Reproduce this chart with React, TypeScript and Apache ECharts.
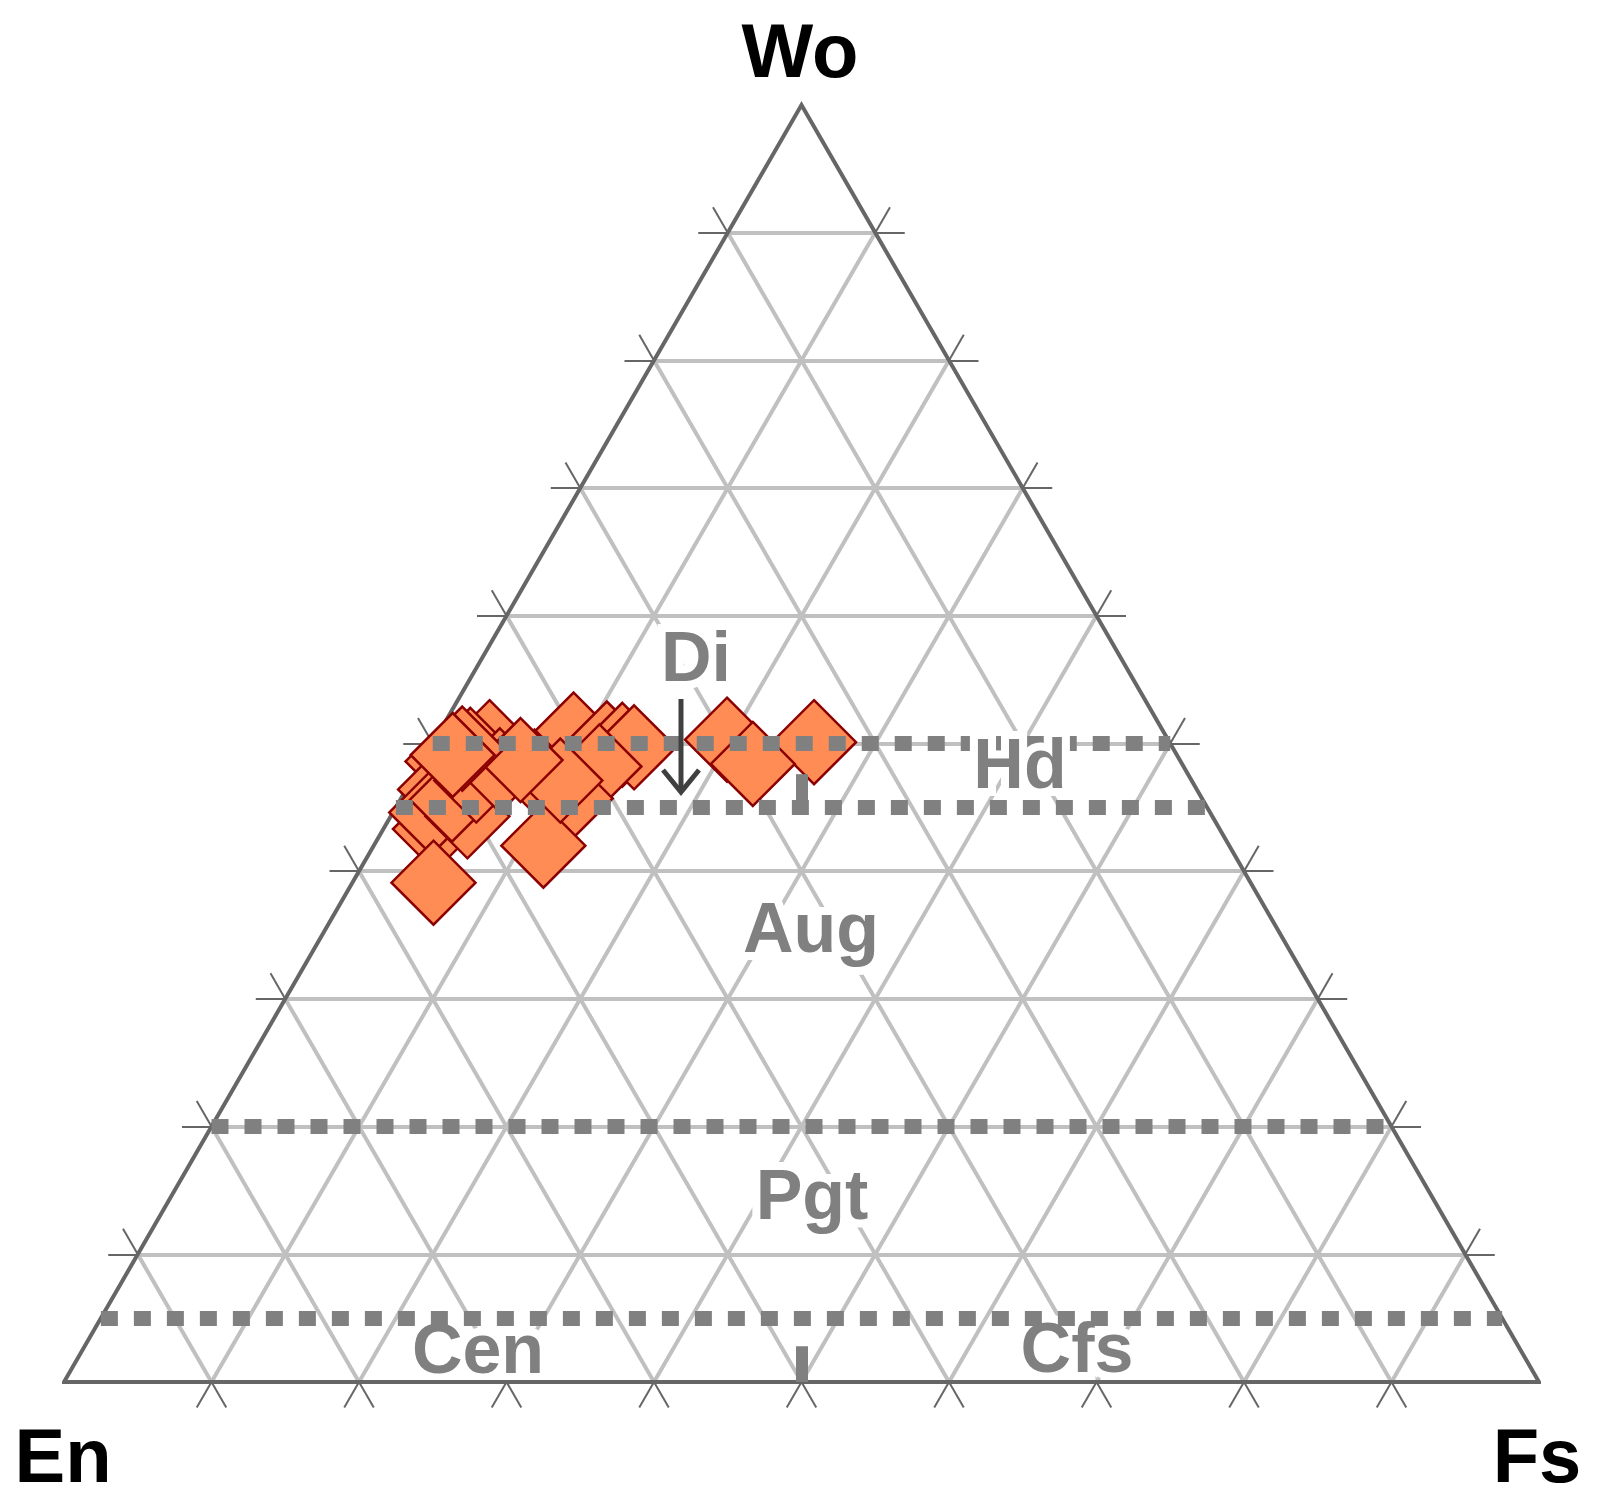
import React, { useEffect, useRef } from "react";
import * as echarts from "echarts";

const H = Math.sqrt(3) / 2;

// Pyroxene compositions (mol %)
const woValues = [50.1, 49.5, 47.9, 48.6, 46.4, 43.3, 44.6, 44.3, 45.6, 39.1, 47.1, 47.9, 50.7, 50.0, 49.9, 49.7, 48.2, 45.7, 47.8, 42.0, 47.1, 48.7, 50.3, 50.1, 48.4, 49.6, 49.1];
const enValues = [46.1, 47.7, 49.3, 49.7, 51.3, 53.2, 52.8, 50.5, 50.9, 55.4, 48.5, 46.5, 40.1, 38.2, 37.2, 36.5, 39.6, 42.8, 44.2, 46.5, 42.8, 44.7, 29.9, 24.1, 29.1, 48.2, 49.1];
const fsValues = [3.8, 2.8, 2.8, 1.7, 2.3, 3.5, 2.6, 5.2, 3.5, 5.5, 4.4, 5.6, 9.2, 11.8, 12.9, 13.8, 12.2, 11.5, 8.0, 11.5, 10.1, 6.6, 19.8, 25.8, 22.5, 2.2, 1.8];

// grid steps (%)
const gridSteps = [10, 20, 30, 40, 50, 60, 70, 80, 90];
// classification boundaries (Wo %)
const boundaryWo = [50, 45, 20, 5];
// En = Fs dividers [WoFrom, WoTo]
const dividerRanges = [[45, 47.6], [0, 2.8]];

const cornerLabels = ["Wo", "En", "Fs"];
const fieldLabels = ["Di", "Hd", "Aug", "Pgt", "Cen", "Cfs"];

function toXY(w: number, e: number, f: number): number[] {
  const s = w + e + f;
  return [(f + w / 2) / s, (w / s) * H];
}

export default function App() {
  const ref = useRef<HTMLDivElement>(null);
  useEffect(() => {
    if (!ref.current) return;
    const chart = echarts.init(ref.current, undefined, { renderer: "svg" });

    const gridLines: any[] = [];
    gridSteps.forEach((k) => {
      gridLines.push({ coords: [toXY(k, 100 - k, 0), toXY(k, 0, 100 - k)] });
      gridLines.push({ coords: [toXY(100 - k, k, 0), toXY(0, k, 100 - k)] });
      gridLines.push({ coords: [toXY(100 - k, 0, k), toXY(0, 100 - k, k)] });
    });

    const L = 0.02;
    const ticks: any[] = [];
    gridSteps.forEach((k) => {
      const w = k / 100;
      const pl = [w / 2, w * H];
      ticks.push({ coords: [pl, [pl[0] - L, pl[1]]] });
      ticks.push({ coords: [pl, [pl[0] - L / 2, pl[1] + L * H]] });
      const pr = [1 - w / 2, w * H];
      ticks.push({ coords: [pr, [pr[0] + L, pr[1]]] });
      ticks.push({ coords: [pr, [pr[0] + L / 2, pr[1] + L * H]] });
      const pb = [w, 0];
      ticks.push({ coords: [pb, [pb[0] - L / 2, -L * H]] });
      ticks.push({ coords: [pb, [pb[0] + L / 2, -L * H]] });
    });

    const dotted = boundaryWo.map((w) => ({
      coords: [toXY(w, 100 - w, 0), toXY(w, 0, 100 - w)],
    }));
    const dividers = dividerRanges.map(([a, b]) => ({
      coords: [toXY(a, (100 - a) / 2, (100 - a) / 2), toXY(b, (100 - b) / 2, (100 - b) / 2)],
    }));

    const edge = [
      [0.5, 0],
      toXY(0, 0, 100),
      toXY(100, 0, 0),
      toXY(0, 100, 0),
      [0.5, 0],
    ];

    const points = woValues.map((w, i) => toXY(w, enValues[i], fsValues[i]));

    const font = '"Liberation Sans", Arial, sans-serif';
    const fieldPos = [
      [696, 657],
      [1020, 764],
      [811, 928],
      [812, 1195],
      [478, 1349],
      [1077, 1348],
    ];
    const fieldZ = [2, 8, 2, 2, 2, 2];
    const cornerPos = [
      [800, 50],
      [63, 1455],
      [1537, 1455],
    ];

    const graphic: any[] = [];
    fieldLabels.forEach((t, i) => {
      graphic.push({
        type: "text",
        x: fieldPos[i][0],
        y: fieldPos[i][1],
        z: fieldZ[i],
        style: {
          text: t,
          fill: "#808080",
          font: `bold 70px ${font}`,
          align: "center",
          verticalAlign: "middle",
          stroke: "#ffffff",
          lineWidth: 16,
        },
      });
    });
    cornerLabels.forEach((t, i) => {
      graphic.push({
        type: "text",
        x: cornerPos[i][0],
        y: cornerPos[i][1],
        z: 20,
        style: {
          text: t,
          fill: "#000000",
          font: `bold 76px ${font}`,
          align: "center",
          verticalAlign: "middle",
        },
      });
    });
    graphic.push({
      type: "line",
      z: 20,
      shape: { x1: 681, y1: 699, x2: 681, y2: 790 },
      style: { stroke: "#404040", lineWidth: 5 },
    });
    graphic.push({
      type: "polyline",
      z: 20,
      shape: { points: [[663, 770], [681, 792], [699, 770]] },
      style: { stroke: "#404040", lineWidth: 5, fill: null },
    });

    chart.setOption({
      animation: false,
      backgroundColor: "#ffffff",
      grid: { left: 64, right: 69, top: 105, bottom: 128 },
      xAxis: { type: "value", min: 0, max: 1, show: false },
      yAxis: { type: "value", min: 0, max: H, show: false },
      series: [
        {
          type: "lines",
          coordinateSystem: "cartesian2d",
          z: 1,
          clip: false,
          silent: true,
          data: gridLines,
          lineStyle: { color: "#c0c0c0", width: 4, opacity: 1, curveness: 0 },
        },
        {
          type: "lines",
          coordinateSystem: "cartesian2d",
          z: 3,
          clip: false,
          silent: true,
          data: ticks,
          lineStyle: { color: "#666666", width: 2, opacity: 1, curveness: 0 },
        },
        {
          type: "line",
          z: 3,
          clip: false,
          silent: true,
          symbol: "none",
          data: edge,
          lineStyle: { color: "#666666", width: 4, join: "miter", miterLimit: 10 },
        },
        {
          type: "scatter",
          z: 4,
          clip: false,
          symbol: "diamond",
          symbolSize: 84,
          data: points,
          itemStyle: { color: "#ff8c55", borderColor: "#8b0000", borderWidth: 2.5, opacity: 1 },
          emphasis: { disabled: true },
        },
        {
          type: "lines",
          coordinateSystem: "cartesian2d",
          z: 5,
          clip: false,
          silent: true,
          data: dotted,
          lineStyle: { color: "#808080", width: 15, opacity: 1, type: [17, 16], cap: "butt", curveness: 0 },
        },
        {
          type: "lines",
          coordinateSystem: "cartesian2d",
          z: 5,
          clip: false,
          silent: true,
          data: dividers,
          lineStyle: { color: "#808080", width: 12, opacity: 1, curveness: 0 },
        },
      ],
      graphic,
    });
    return () => chart.dispose();
  }, []);
  return (
    <div
      ref={ref}
      style={{ position: "absolute", left: 0, top: 0, width: 1608, height: 1510 }}
    />
  );
}
